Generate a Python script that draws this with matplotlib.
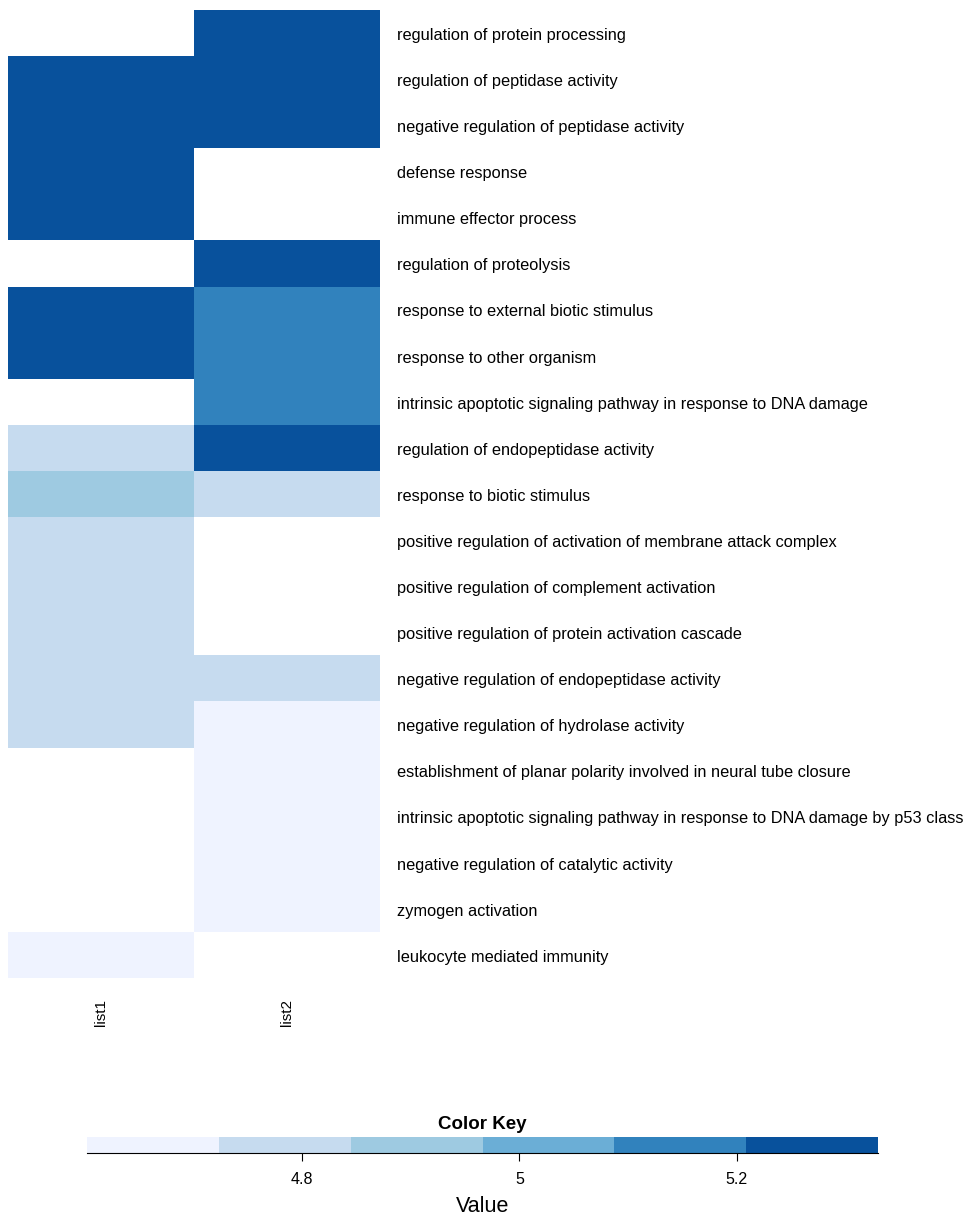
import numpy as np
import matplotlib.pyplot as plt
from matplotlib.colors import ListedColormap, BoundaryNorm

terms = [
    "regulation of protein processing",
    "regulation of peptidase activity",
    "negative regulation of peptidase activity",
    "defense response",
    "immune effector process",
    "regulation of proteolysis",
    "response to external biotic stimulus",
    "response to other organism",
    "intrinsic apoptotic signaling pathway in response to DNA damage",
    "regulation of endopeptidase activity",
    "response to biotic stimulus",
    "positive regulation of activation of membrane attack complex",
    "positive regulation of complement activation",
    "positive regulation of protein activation cascade",
    "negative regulation of endopeptidase activity",
    "negative regulation of hydrolase activity",
    "establishment of planar polarity involved in neural tube closure",
    "intrinsic apoptotic signaling pathway in response to DNA damage by p53 class",
    "negative regulation of catalytic activity",
    "zymogen activation",
    "leukocyte mediated immunity",
]
nan = np.nan
list1 = [nan, 5.30, 5.30, 5.30, 5.30, nan, 5.30, 5.30, nan, 4.78, 4.90,
         4.78, 4.78, 4.78, 4.78, 4.78, nan, nan, nan, nan, 4.63]
list2 = [5.30, 5.30, 5.30, nan, nan, 5.30, 5.15, 5.15, 5.15, 5.30, 4.78,
         nan, nan, nan, 4.78, 4.63, 4.63, 4.63, 4.63, 4.63, nan]
columns = ["list1", "list2"]

vmin, vmax = 4.602, 5.33
colors = ["#EFF3FF", "#C6DBEF", "#9ECAE1", "#6BAED6", "#3182BD", "#08519C"]
cmap = ListedColormap(colors)
bounds = np.linspace(vmin, vmax, len(colors) + 1)
norm = BoundaryNorm(bounds, cmap.N)

W, H = 964, 1219
fig = plt.figure(figsize=(W / 100, H / 100), dpi=100)
plt.rcParams["font.family"] = ["Liberation Sans", "DejaVu Sans"]

ax = fig.add_axes([8 / W, 1 - 978 / H, 372 / W, 968 / H])
data = np.ma.masked_invalid(np.array([list1, list2]).T)
ax.pcolormesh(data, cmap=cmap, norm=norm)
ax.set_xlim(0, 2)
ax.set_ylim(len(terms), 0)
for s in ax.spines.values():
    s.set_visible(False)
ax.set_xticks([])
ax.set_yticks([])
for i, t in enumerate(terms):
    ax.text(2.09, i + 0.55, t, va="center", ha="left", fontsize=11.8, clip_on=False)
for j, c in enumerate(columns):
    ax.text(j + 0.5, len(terms) + 0.45, c, rotation=90, ha="center", va="top", fontsize=11)

cax = fig.add_axes([87 / W, 1 - 1153 / H, 791 / W, 16 / H])
cax.pcolormesh(bounds, [0, 1], np.array([bounds[:-1] + 1e-6]), cmap=cmap, norm=norm)
cax.set_xlim(vmin, vmax)
cax.set_yticks([])
for k in ["top", "left", "right"]:
    cax.spines[k].set_visible(False)
cax.set_xticks([4.8, 5.0, 5.2])
cax.set_xticklabels(["4.8", "5", "5.2"], fontsize=11.5)
cax.tick_params(axis="x", length=6, pad=8)
cax.set_title("Color Key", fontweight="bold", fontsize=13.5, pad=6)
cax.set_xlabel("Value", fontsize=15.5, labelpad=6)

fig.savefig("out.png", dpi=100)
